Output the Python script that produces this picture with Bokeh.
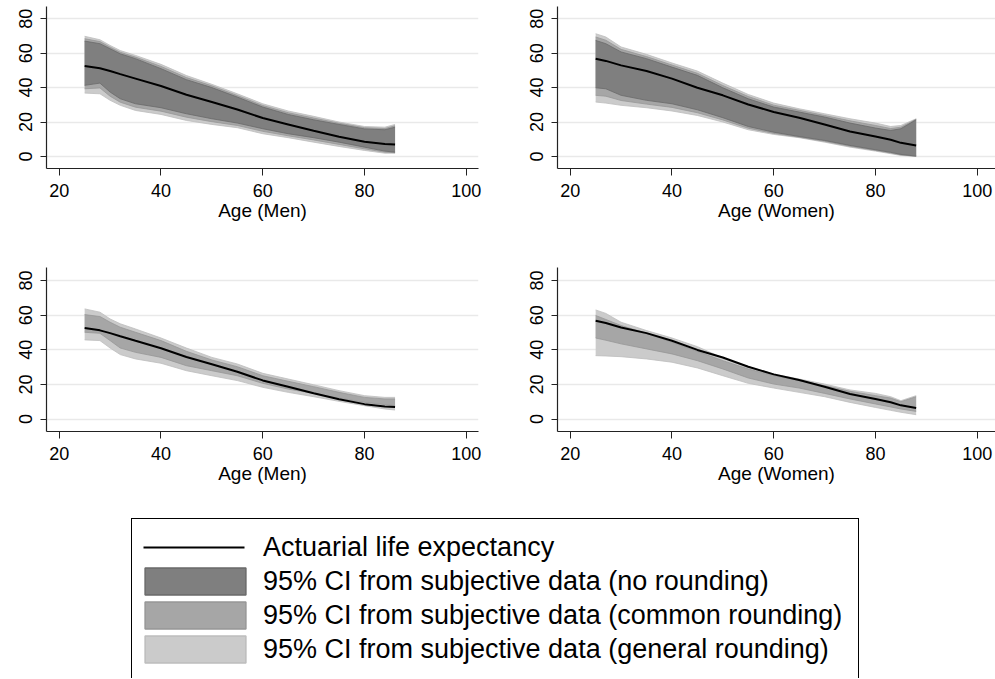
from bokeh.plotting import figure
from bokeh.layouts import column, row
from bokeh.models import Range1d, FixedTicker, Legend, LegendItem
from bokeh.embed import file_html
from bokeh.resources import INLINE

# ---------------- data ----------------
x_ticks = [20, 40, 60, 80, 100]
y_ticks = [0, 20, 40, 60, 80]

age_men = [25, 28, 30, 32, 35, 40, 45, 50, 55, 60, 65, 70, 75, 80, 84, 86]
act_men = [52.5, 51.2, 49.6, 47.8, 45.2, 40.9, 35.8, 31.6, 27.3, 22.3, 18.6, 14.9, 11.4, 8.6, 7.3, 7.0]

# top row, men
men_gen_up = [69.8, 67.8, 64.5, 61.5, 58.7, 53.5, 47.0, 41.9, 36.4, 30.6, 26.4, 23.3, 20.0, 17.4, 17.0, 18.6]
men_gen_lo = [36.8, 36.4, 32.6, 29.7, 26.7, 24.4, 20.9, 18.6, 16.7, 13.2, 10.9, 8.3, 5.8, 3.5, 1.9, 1.9]
men_com_up = [68.4, 66.7, 63.5, 60.5, 57.7, 52.3, 45.8, 41.0, 35.4, 29.6, 25.4, 22.3, 19.3, 16.7, 16.2, 17.8]
men_com_lo = [39.3, 39.8, 35.0, 31.5, 28.6, 26.3, 22.8, 20.2, 18.0, 14.6, 12.0, 9.6, 7.0, 4.4, 2.5, 2.2]
men_non_up = [67.0, 65.5, 62.6, 59.6, 56.8, 51.0, 44.6, 40.0, 34.5, 28.7, 24.4, 21.3, 18.6, 16.0, 15.5, 17.0]
men_non_lo = [41.3, 42.6, 37.4, 33.5, 30.6, 28.3, 24.8, 21.9, 19.4, 16.1, 13.2, 10.9, 8.3, 5.4, 3.1, 2.5]

# bottom row, men
men2_gen_up = [63.6, 61.7, 57.8, 55.0, 52.0, 46.8, 41.0, 35.6, 31.8, 26.4, 23.1, 19.8, 16.4, 13.5, 12.5, 12.5]
men2_gen_lo = [45.7, 45.3, 41.0, 37.2, 34.7, 32.2, 27.9, 25.0, 22.2, 18.3, 15.4, 12.9, 10.2, 7.7, 5.8, 5.2]
men2_com_up = [60.3, 59.2, 55.9, 53.0, 50.1, 45.3, 39.1, 34.1, 30.2, 25.0, 21.8, 18.7, 15.4, 12.5, 11.6, 11.6]
men2_com_lo = [50.1, 49.5, 45.3, 41.0, 38.5, 35.6, 30.8, 27.9, 25.0, 20.6, 17.3, 14.8, 12.1, 9.6, 8.3, 7.7]

age_wom = [25, 27, 30, 35, 40, 45, 50, 55, 60, 65, 70, 75, 80, 83, 85, 88]
act_wom = [56.8, 55.5, 52.9, 49.6, 45.2, 39.9, 35.5, 30.2, 25.8, 22.5, 18.6, 14.5, 11.6, 9.7, 7.9, 6.4]

# top row, women
wom_gen_up = [71.3, 69.4, 63.6, 59.3, 54.3, 49.6, 42.6, 36.0, 31.0, 27.7, 24.8, 21.9, 19.4, 17.4, 18.0, 21.9]
wom_gen_lo = [31.6, 31.0, 29.7, 28.3, 26.4, 23.8, 20.0, 15.5, 12.8, 10.9, 8.3, 5.4, 3.1, 1.6, 0.6, 0.0]
wom_com_up = [69.4, 67.5, 62.2, 58.0, 53.1, 48.3, 41.2, 34.8, 29.8, 26.8, 23.8, 20.7, 18.0, 16.2, 17.0, 21.6]
wom_com_lo = [35.5, 35.0, 32.5, 30.4, 28.5, 25.4, 21.2, 16.4, 13.4, 11.2, 8.8, 5.9, 3.5, 2.0, 0.9, 0.1]
wom_non_up = [67.4, 65.5, 60.7, 56.8, 51.9, 47.1, 39.9, 33.5, 28.7, 25.8, 22.9, 19.4, 16.5, 15.1, 16.1, 21.3]
wom_non_lo = [39.9, 39.3, 35.5, 32.6, 30.6, 27.1, 22.5, 17.4, 14.1, 11.6, 9.3, 6.4, 3.9, 2.4, 1.2, 0.2]

# bottom row, women
wom2_gen_up = [63.0, 61.0, 55.9, 51.1, 46.8, 41.8, 35.3, 30.3, 26.0, 23.1, 20.2, 16.8, 14.8, 12.9, 10.6, 13.5]
wom2_gen_lo = [36.6, 36.4, 36.0, 34.7, 32.8, 29.5, 25.0, 20.6, 17.9, 15.4, 12.9, 9.6, 6.7, 5.0, 3.9, 2.5]
wom2_com_up = [59.8, 57.5, 54.0, 49.5, 44.3, 39.1, 33.7, 28.9, 25.0, 22.2, 19.3, 16.0, 13.5, 12.1, 10.0, 12.9]
wom2_com_lo = [46.8, 45.5, 43.4, 40.5, 37.6, 33.7, 28.9, 23.7, 20.2, 17.9, 14.8, 11.6, 8.7, 7.0, 5.8, 4.4]

labels = ["Actuarial life expectancy",
          "95% CI from subjective data (no rounding)",
          "95% CI from subjective data (common rounding)",
          "95% CI from subjective data (general rounding)"]

# ---------------- styles ----------------
C_NON = "#7f7f7f"
C_COM = "#a6a6a6"
C_GEN = "#cbcbcb"
E_NON = "#6a6a6a"
E_COM = "#979797"
E_GEN = "#bdbdbd"
FONT = "Liberation Sans"


def make_panel(width, height, xr, yr, left, top, bottom, right, xlabel):
    p = figure(width=width, height=height, x_range=Range1d(*xr), y_range=Range1d(*yr),
               min_border_left=left, min_border_right=right, min_border_top=top,
               min_border_bottom=bottom, toolbar_location=None, output_backend="svg")
    p.outline_line_color = None
    p.xgrid.visible = False
    p.ygrid.grid_line_color = "#e9e9e9"
    p.ygrid.grid_line_width = 1.6
    p.xaxis.ticker = FixedTicker(ticks=x_ticks)
    p.yaxis.ticker = FixedTicker(ticks=y_ticks)
    p.yaxis.major_label_orientation = "vertical"
    p.axis.minor_tick_line_color = None
    p.axis.major_tick_in = 0
    p.xaxis.major_tick_out = 7
    p.yaxis.major_tick_out = 6
    p.axis.axis_line_color = "#222222"
    p.axis.major_tick_line_color = "#222222"
    p.axis.axis_line_width = 1.2
    p.axis.major_label_text_font = FONT
    p.axis.major_label_text_font_size = "18px"
    p.axis.major_label_text_color = "black"
    p.xaxis.major_label_standoff = 8
    p.yaxis.major_label_standoff = 8
    p.xaxis.axis_label = xlabel
    p.xaxis.axis_label_text_font = FONT
    p.xaxis.axis_label_text_font_size = "19px"
    p.xaxis.axis_label_text_font_style = "normal"
    p.xaxis.axis_label_text_color = "black"
    p.xaxis.axis_label_standoff = 0
    return p


def band(p, x, lo, up, fill, edge):
    p.varea(x=x, y1=lo, y2=up, fill_color=fill)
    p.line(x=x, y=up, line_color=edge, line_width=0.8)
    p.line(x=x, y=lo, line_color=edge, line_width=0.8)


XR1 = (17.5, 102.4)
XR2 = (17.5, 103.6)
YR_TOP = (-7.0, 87.1)
YR_BOT = (-7.2, 87.5)

p1 = make_panel(519, 259, XR1, YR_TOP, 46, 6, 91, 41, "Age (Men)")
band(p1, age_men, men_gen_lo, men_gen_up, C_GEN, E_GEN)
band(p1, age_men, men_com_lo, men_com_up, C_COM, E_COM)
band(p1, age_men, men_non_lo, men_non_up, C_NON, E_NON)
p1.line(age_men, act_men, line_color="black", line_width=2)

p2 = make_panel(476, 259, XR2, YR_TOP, 38, 6, 91, 0, "Age (Women)")
band(p2, age_wom, wom_gen_lo, wom_gen_up, C_GEN, E_GEN)
band(p2, age_wom, wom_com_lo, wom_com_up, C_COM, E_COM)
band(p2, age_wom, wom_non_lo, wom_non_up, C_NON, E_NON)
p2.line(age_wom, act_wom, line_color="black", line_width=2)

p3 = make_panel(519, 240, XR1, YR_BOT, 46, 8, 68, 41, "Age (Men)")
band(p3, age_men, men2_gen_lo, men2_gen_up, C_GEN, E_GEN)
band(p3, age_men, men2_com_lo, men2_com_up, C_COM, E_COM)
p3.line(age_men, act_men, line_color="black", line_width=2)

p4 = make_panel(476, 240, XR2, YR_BOT, 38, 8, 68, 0, "Age (Women)")
band(p4, age_wom, wom2_gen_lo, wom2_gen_up, C_GEN, E_GEN)
band(p4, age_wom, wom2_com_lo, wom2_com_up, C_COM, E_COM)
p4.line(age_wom, act_wom, line_color="black", line_width=2)

# ---------------- legend ----------------
leg = figure(width=995, height=179, x_range=Range1d(0, 1), y_range=Range1d(0, 1),
             x_axis_location=None, y_axis_location=None,
             min_border_left=112, min_border_right=0, min_border_top=0, min_border_bottom=0,
             toolbar_location=None, output_backend="svg")
leg.grid.visible = False
leg.outline_line_color = None
# dummy renderers placed outside the visible range: they only feed the legend
r_act = leg.line(x=[5, 6], y=[5, 5], line_color="black", line_width=2.2, line_dash="0 11 101 40")
r_non = leg.patch(x=[5, 6, 6], y=[5, 5, 6], fill_color=C_NON, line_color=E_NON, line_width=1.5)
r_com = leg.patch(x=[5, 6, 6], y=[5, 5, 6], fill_color=C_COM, line_color=E_COM, line_width=1.5)
r_gen = leg.patch(x=[5, 6, 6], y=[5, 5, 6], fill_color=C_GEN, line_color=E_GEN, line_width=1.5)
r_pad = leg.patch(x=[5, 6, 6], y=[5, 5, 6], fill_alpha=0, line_alpha=0)
legend = Legend(items=[LegendItem(label=labels[0], renderers=[r_act]),
                       LegendItem(label=labels[1], renderers=[r_non]),
                       LegendItem(label=labels[2], renderers=[r_com]),
                       LegendItem(label=labels[3], renderers=[r_gen]),
                       LegendItem(label=" ", renderers=[r_pad])],
                title=" ", title_text_font_size="2px", title_standoff=9,
                location="top_left", margin=19, padding=0, spacing=0,
                glyph_width=126, glyph_height=34, label_standoff=5, label_width=595,
                label_text_font=FONT, label_text_font_size="27px", label_text_color="black",
                border_line_color="black", border_line_width=1.5, border_line_alpha=1.0,
                background_fill_color="white", background_fill_alpha=1.0)
leg.add_layout(legend, "center")

layout = column(row(p1, p2), row(p3, p4), leg)
open("out.html", "w").write(file_html(layout, INLINE))
